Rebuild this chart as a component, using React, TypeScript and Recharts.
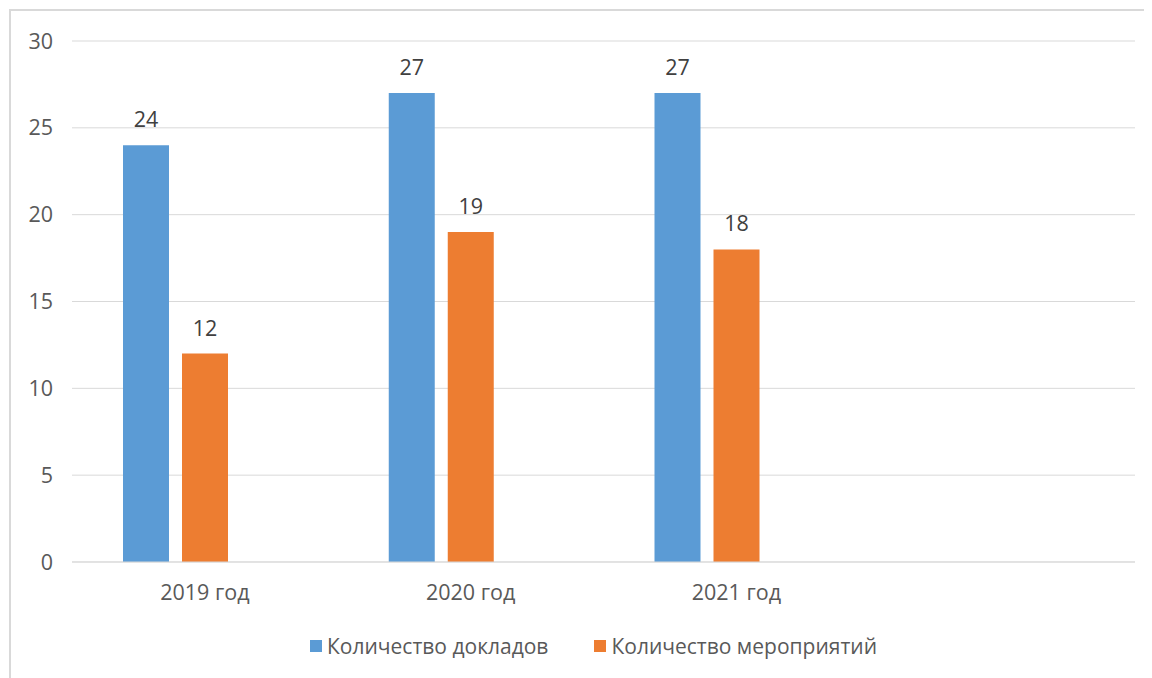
import { BarChart, Bar, XAxis, YAxis, CartesianGrid, LabelList } from "recharts";

const years = ["2019 год", "2020 год", "2021 год", ""];
const reports = [24, 27, 27, null];
const events = [12, 19, 18, null];
const yTicks = [0, 5, 10, 15, 20, 25, 30];

const seriesNames = ["Количество докладов", "Количество мероприятий"];
const colors = ["#5B9BD5", "#ED7D31"];

const data = years.map((y, i) => ({
  name: y,
  reports: reports[i],
  events: events[i],
}));

const font = "'Open Sans', sans-serif";
const fs = 21.5;

function LegendBox() {
  return (
    <div
      style={{
        position: "absolute",
        left: 302,
        top: 624,
        display: "flex",
        fontFamily: font,
        fontSize: 21,
        color: "#595959",
      }}
    >
      {seriesNames.map((n, i) => (
        <div key={n} style={{ display: "flex", alignItems: "center", marginRight: 46 }}>
          <span style={{ width: 12, height: 12, background: colors[i], marginRight: 5, display: "inline-block" }} />
          <span>{n}</span>
        </div>
      ))}
    </div>
  );
}

export default function App() {
  return (
    <div style={{ position: "relative", width: 1144, height: 670 }}>
      <div
        style={{
          position: "absolute",
          left: 1,
          top: 1,
          right: -20,
          bottom: -20,
          borderTop: "2px solid #d9d9d9",
          borderLeft: "2px solid #d9d9d9",
        }}
      />
      <div style={{ position: "absolute", left: -8, top: -8 }}>
        <BarChart
          width={1152}
          height={678}
          data={data}
          margin={{ top: 41, right: 17, left: 32, bottom: 0 }}
          barSize={46}
          barGap={13}
        >
          <CartesianGrid vertical={false} stroke="#d9d9d9" />
          <XAxis
            dataKey="name"
            height={116}
            axisLine={{ stroke: "#d9d9d9" }}
            tickLine={false}
            tickSize={0}
            tickMargin={23}
            tick={{ fill: "#595959", fontSize: fs, fontFamily: font }}
          />
          <YAxis
            width={40}
            domain={[0, 30]}
            ticks={yTicks}
            axisLine={false}
            tickLine={false}
            tickSize={0}
            tickMargin={19}
            tick={{ fill: "#595959", fontSize: fs, fontFamily: font }}
          />
          <Bar dataKey="reports" name={seriesNames[0]} fill={colors[0]} isAnimationActive={false}>
            <LabelList dataKey="reports" position="top" offset={18} fill="#404040" fontSize={fs} fontFamily={font} />
          </Bar>
          <Bar dataKey="events" name={seriesNames[1]} fill={colors[1]} isAnimationActive={false}>
            <LabelList dataKey="events" position="top" offset={18} fill="#404040" fontSize={fs} fontFamily={font} />
          </Bar>
          <Bar dataKey="empty" legendType="none" fill="none" isAnimationActive={false} />
        </BarChart>
      </div>
      <LegendBox />
    </div>
  );
}
